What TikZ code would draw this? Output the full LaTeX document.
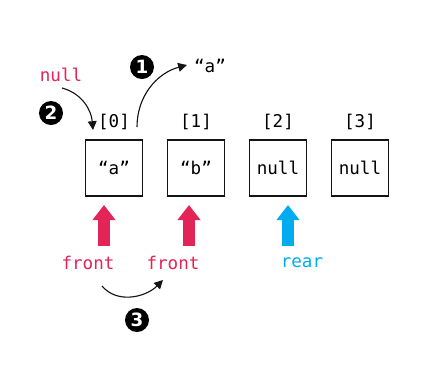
\documentclass[tikz,border=0pt]{standalone}
\usepackage{fontspec}
\setmonofont{DejaVu Sans Mono}
\setsansfont{DejaVu Sans}
\usetikzlibrary{arrows.meta, positioning, calc}
\definecolor{frontred}{RGB}{226, 36, 86}
\definecolor{rearblue}{RGB}{0, 172, 238}
\definecolor{inkdark}{RGB}{20, 20, 20}

\begin{document}
\begin{tikzpicture}[
    x=0.025cm, y=-0.025cm,
    cell/.style={draw=inkdark, line width=1pt, minimum width=1.42cm, minimum height=1.40cm, font=\ttfamily\fontsize{12.5}{15}\selectfont},
    idx/.style={font=\ttfamily\fontsize{12.5}{15}\selectfont, inner sep=1pt},
    lbl/.style={font=\ttfamily\fontsize{12.5}{15}\selectfont, inner sep=1pt},
    stepmark/.style={circle, fill=black, text=white, inner sep=0pt, minimum size=0.6cm, font=\sffamily\bfseries\fontsize{13}{15}\selectfont},
    ptr/.style={line width=0.3cm, -{Triangle[width=0.56cm, length=0.38cm]}},
    move/.style={draw=inkdark, line width=0.8pt, -{Triangle[length=2.2mm, width=2.2mm]}}
]
\useasboundingbox (0,0) rectangle (443,364);

% Array cells
\node[cell] (c0) at (114,168) {“a”};
\node[cell] (c1) at (196,168) {“b”};
\node[cell] (c2) at (278,168) {null};
\node[cell] (c3) at (360,168) {null};

% Indices
\node[idx, above=0.2cm of c0] (i0) {[0]};
\node[idx, above=0.2cm of c1] (i1) {[1]};
\node[idx, above=0.2cm of c2] (i2) {[2]};
\node[idx, above=0.2cm of c3] (i3) {[3]};

% Pointers
\node[lbl, text=frontred] (front0) at (88,263) {front};
\node[lbl, text=frontred] (front1) at (173,263) {front};
\node[lbl, text=rearblue] (rear) at (302,263) {rear};
\coordinate (p0a) at (104,246);
\coordinate (p0b) at (104,205);
\coordinate (p1a) at (189,246);
\coordinate (p1b) at (189,205);
\coordinate (p2a) at (288,246);
\coordinate (p2b) at (288,205);
\draw[ptr, frontred] (p0a) -- (p0b);
\draw[ptr, frontred] (p1a) -- (p1b);
\draw[ptr, rearblue] (p2a) -- (p2b);

% Step 1: take out the value
\node[lbl] (outval) at (210,66) {“a”};
\node[stepmark] (s1) at (142,67) {1};
\coordinate (s1from) at (137,127);
\coordinate (s1to) at (187,65);
\draw[move] (s1from) to[out=90, in=195] (s1to);

% Step 2: write null
\node[lbl, text=frontred] (nullval) at (61,75) {null};
\node[stepmark] (s2) at (51,113) {2};
\coordinate (s2from) at (62,88);
\coordinate (s2to) at (93,130);
\draw[move] (s2from) to[out=-15, in=95] (s2to);

% Step 3: advance front
\node[stepmark] (s3) at (137,320) {3};
\coordinate (s3from) at (102,286);
\coordinate (s3to) at (163,280);
\draw[move] (s3from) to[out=-50, in=225] (s3to);

\end{tikzpicture}
\end{document}
